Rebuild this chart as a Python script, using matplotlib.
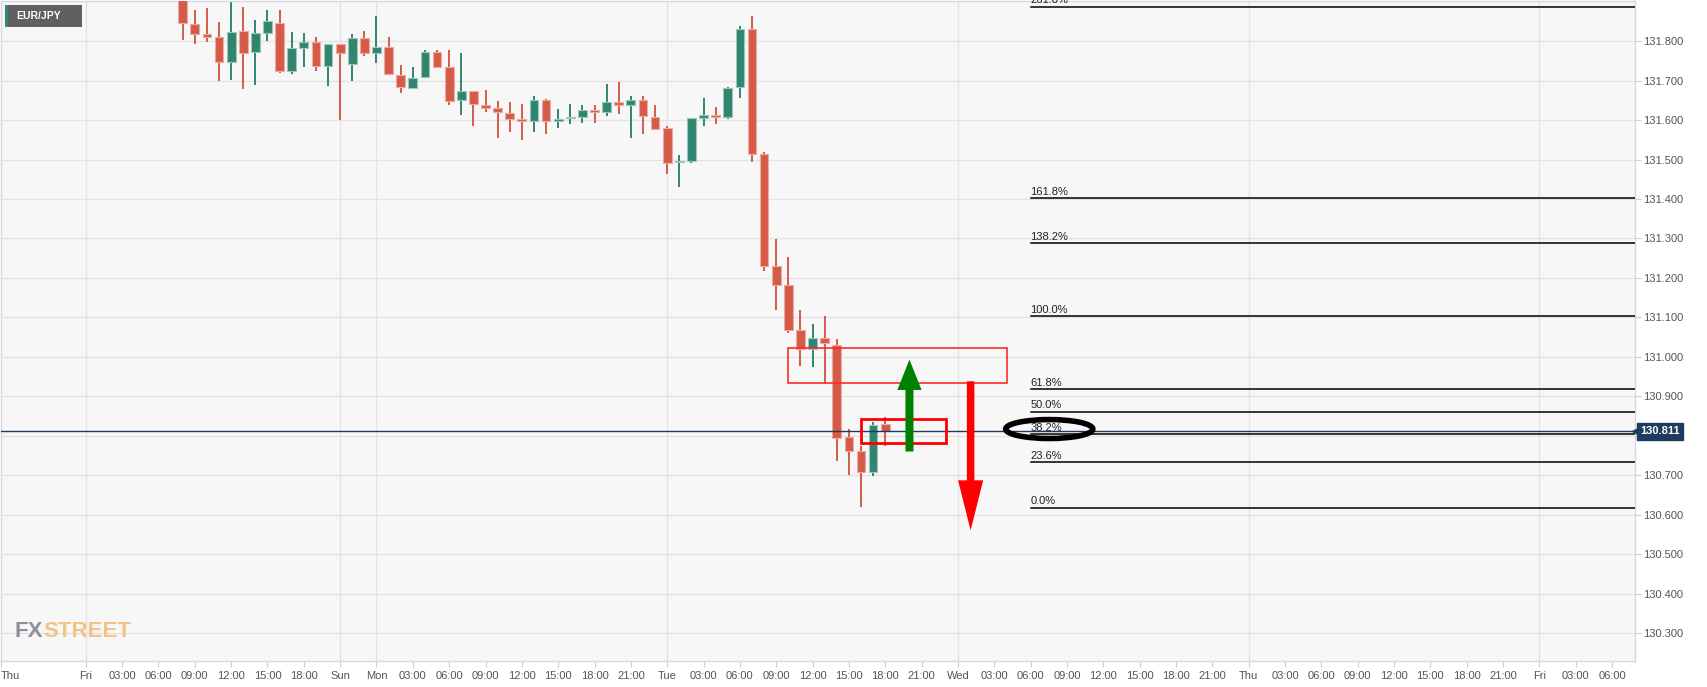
import matplotlib
matplotlib.use("Agg")
import matplotlib.pyplot as plt
from matplotlib.patches import Rectangle, Ellipse
import numpy as np

plt.rcParams['font.family'] = ['Liberation Sans', 'DejaVu Sans']

# ---------------- data ----------------
# hourly bar index (0 = Fri 00:00, weekend compressed)
bar_idx = list(range(8, 67))
opens = [131.930, 131.844, 131.818, 131.811, 131.747, 131.825, 131.772, 131.822, 131.847, 131.725,
         131.783, 131.797, 131.736, 131.793, 131.742, 131.809, 131.769, 131.786, 131.715, 131.681,
         131.710, 131.772, 131.734, 131.651, 131.674, 131.639, 131.632, 131.618, 131.602, 131.597,
         131.651, 131.598, 131.605, 131.609, 131.626, 131.621, 131.646, 131.638, 131.650, 131.608,
         131.579, 131.494, 131.497, 131.605, 131.612, 131.607, 131.683, 131.830, 131.514, 131.231,
         131.183, 131.068, 131.019, 131.049, 131.031, 130.796, 130.761, 130.707, 130.830]
highs = [131.950, 131.880, 131.885, 131.849, 131.910, 131.888, 131.853, 131.878, 131.878, 131.823,
         131.820, 131.811, 131.793, 131.793, 131.818, 131.825, 131.865, 131.811, 131.740, 131.735,
         131.777, 131.777, 131.777, 131.770, 131.674, 131.677, 131.649, 131.647, 131.641, 131.660,
         131.654, 131.629, 131.641, 131.639, 131.639, 131.692, 131.697, 131.660, 131.660, 131.639,
         131.586, 131.511, 131.605, 131.657, 131.634, 131.685, 131.838, 131.863, 131.519, 131.298,
         131.252, 131.118, 131.084, 131.103, 131.044, 130.816, 130.773, 130.836, 130.848]
lows = [131.802, 131.794, 131.797, 131.700, 131.702, 131.680, 131.690, 131.800, 131.719, 131.716,
        131.735, 131.725, 131.687, 131.600, 131.700, 131.763, 131.745, 131.715, 131.670, 131.681,
        131.710, 131.731, 131.639, 131.612, 131.584, 131.620, 131.555, 131.570, 131.549, 131.570,
        131.564, 131.580, 131.590, 131.593, 131.593, 131.611, 131.615, 131.554, 131.564, 131.574,
        131.463, 131.430, 131.492, 131.585, 131.589, 131.604, 131.656, 131.493, 131.217, 131.118,
        131.061, 130.977, 130.973, 130.930, 130.737, 130.700, 130.620, 130.697, 130.775]
closes = [131.846, 131.818, 131.812, 131.747, 131.823, 131.770, 131.822, 131.851, 131.725, 131.782,
          131.797, 131.736, 131.793, 131.771, 131.809, 131.769, 131.786, 131.717, 131.683, 131.708,
          131.773, 131.735, 131.649, 131.674, 131.642, 131.631, 131.620, 131.603, 131.598, 131.651,
          131.597, 131.604, 131.608, 131.626, 131.621, 131.646, 131.638, 131.651, 131.611, 131.578,
          131.492, 131.496, 131.605, 131.612, 131.607, 131.682, 131.832, 131.515, 131.231, 131.183,
          131.068, 131.019, 131.049, 131.034, 130.794, 130.761, 130.707, 130.827, 130.812]

last_price = 130.811

x_tick_pos = [-7, 0, 3, 6, 9, 12, 15, 18, 21, 24, 27, 30, 33, 36, 39, 42, 45, 48, 51, 54, 57, 60, 63, 66, 69,
              72, 75, 78, 81, 84, 87, 90, 93, 96, 99, 102, 105, 108, 111, 114, 117, 120, 123, 126]
x_tick_labels = ["Thu", "Fri", "03:00", "06:00", "09:00", "12:00", "15:00", "18:00", "Sun", "Mon",
                 "03:00", "06:00", "09:00", "12:00", "15:00", "18:00", "21:00", "Tue",
                 "03:00", "06:00", "09:00", "12:00", "15:00", "18:00", "21:00", "Wed",
                 "03:00", "06:00", "09:00", "12:00", "15:00", "18:00", "21:00", "Thu",
                 "03:00", "06:00", "09:00", "12:00", "15:00", "18:00", "21:00", "Fri",
                 "03:00", "06:00"]
day_grid_pos = [0, 21, 24, 48, 72, 96, 120]
y_ticks = [130.3, 130.4, 130.5, 130.6, 130.7, 130.8, 130.9, 131.0, 131.1, 131.2, 131.3, 131.4, 131.5, 131.6, 131.7, 131.8]
y_tick_hidden = [130.8]  # covered by the last-price tag in the reference

fib_low = 130.618
fib_high = 131.103
fib_ratios = [2.618, 1.618, 1.382, 1.0, 0.618, 0.5, 0.382, 0.236, 0.0]
fib_labels = ["261.8%", "161.8%", "138.2%", "100.0%", "61.8%", "50.0%", "38.2%", "23.6%", "0.0%"]
fib_start = 78.0

# annotation shapes
zone_big = (58.0, 76.05, 130.934, 131.023)
zone_small = (64.0, 71.04, 130.781, 130.843)
arrow_up = dict(x=68.0, y0=130.760, y1=130.993, head_len=0.077, width=0.66, head_w=2.0)
arrow_dn = dict(x=73.05, y0=130.938, y1=130.560, head_len=0.127, width=0.62, head_w=2.07)
ring = dict(x=79.54, y=130.817, w=7.2, h=0.048)

# ---------------- figure ----------------
W, H = 1707, 687
fig = plt.figure(figsize=(W / 100, H / 100), dpi=100)
fig.patch.set_facecolor('white')
ax = fig.add_axes([1 / W, 26 / H, 1634 / W, 660 / H])
ax.set_facecolor('#f7f7f7')
ax.set_xlim(-6.9, 127.9)
ax.set_ylim(130.229, 131.902)

# grid
for yv in y_ticks:
    ax.axhline(yv, color='#e3e3e3', lw=1.0, zorder=0)
for xv in day_grid_pos:
    ax.axvline(xv, color='#e3e3e3', lw=1.0, zorder=0)

# candles
up_face, up_edge = '#31856f', '#98c9bb'
dn_face, dn_edge = '#d55b49', '#eeaaa0'
o = np.array(opens); c = np.array(closes); hi = np.array(highs); lo = np.array(lows)
xs = np.array(bar_idx)
is_up = c >= o
wcol = [up_face if u else dn_face for u in is_up]
ax.vlines(xs, lo, hi, colors=wcol, lw=1.4, zorder=2)
body_h = np.maximum(np.abs(c - o), 0.003)
ax.bar(xs, body_h, bottom=np.minimum(o, c), width=0.72,
       color=[up_face if u else dn_face for u in is_up],
       edgecolor=[up_edge if u else dn_edge for u in is_up], linewidth=0.8, zorder=3)

# fibonacci levels
for r, lab in zip(fib_ratios, fib_labels):
    lvl = fib_low + r * (fib_high - fib_low)
    ax.plot([fib_start, 127.9], [lvl, lvl], color='black', lw=1.1, zorder=4)
    t = ax.annotate(lab, xy=(fib_start, lvl), xytext=(0, 1), textcoords='offset points',
                    ha='left', va='bottom', fontsize=8, color='#222222', zorder=4)
    t.set_clip_on(True)

# current price line
ax.axhline(last_price, color='#23395a', lw=1.0, zorder=4)

# zones
x0, x1, y0, y1 = zone_big
ax.add_patch(Rectangle((x0, y0), x1 - x0, y1 - y0, fill=False, ec='#ff2a2a', lw=1.2, zorder=5))
x0, x1, y0, y1 = zone_small
ax.add_patch(Rectangle((x0, y0), x1 - x0, y1 - y0, fill=False, ec='#ff0000', lw=2.0, zorder=5))

# arrows
for a, col in ((arrow_up, '#008000'), (arrow_dn, '#ff0000')):
    ax.arrow(a['x'], a['y0'], 0, a['y1'] - a['y0'], width=a['width'], head_width=a['head_w'],
             head_length=a['head_len'], length_includes_head=True, fc=col, ec=col, lw=0, zorder=6)

# ring around 38.2%
ax.add_patch(Ellipse((ring['x'], ring['y']), ring['w'], ring['h'], fill=False, ec='black', lw=4.0, zorder=6))

# axes styling
ax.yaxis.tick_right()
ax.set_yticks(y_ticks)
ax.set_yticklabels(["" if v in y_tick_hidden else f"{v:.3f}" for v in y_ticks])
ax.set_xticks(x_tick_pos)
ax.set_xticklabels(x_tick_labels)
ax.tick_params(axis='y', length=4, width=0.8, color='#c9cdd8', labelsize=8, labelcolor='#555555', pad=2)
ax.tick_params(axis='x', length=4, width=0.8, color='#c9cdd8', labelsize=8, labelcolor='#555555', pad=3)
xl = ax.get_xticklabels()
xl[0].set_ha('left')
for s in ax.spines.values():
    s.set_color('#d3d7e6')
    s.set_linewidth(1.0)

# last price tag
ax.plot([1.0], [last_price], marker='<', color='#1f3b5e', markersize=5,
        transform=ax.get_yaxis_transform(), clip_on=False, zorder=10)
ax.annotate(f"{last_price:.3f}", xy=(1, last_price), xycoords=('axes fraction', 'data'),
            xytext=(4, 0), textcoords='offset points', ha='left', va='center',
            fontsize=8, fontweight='bold', color='white', zorder=10, annotation_clip=False,
            bbox=dict(boxstyle='square,pad=0.3', fc='#1f3b5e', ec='#1f3b5e'))

# symbol tag (top-left)
fig.patches.append(Rectangle((5 / W, 1 - 27 / H), 77 / W, 22 / H, transform=fig.transFigure,
                             fc='#606060', ec='none', zorder=10))
fig.patches.append(Rectangle((5 / W, 1 - 27 / H), 2.5 / W, 22 / H, transform=fig.transFigure,
                             fc='#2e8b6e', ec='none', zorder=11))
fig.text(16.5 / W, 1 - 16 / H, "EUR/JPY", ha='left', va='center', color='white',
         fontsize=7.5, fontweight='bold', zorder=12)

# watermark
fx = fig.text(15 / W, 45 / H, "FX", ha='left', va='bottom', color='#8e9099',
              fontsize=16, fontweight='bold', fontstretch='condensed',
              family=['Liberation Sans Narrow', 'Liberation Sans', 'DejaVu Sans'], zorder=3)
fig.canvas.draw()
ax.annotate("STREET", xy=(1, 0), xycoords=fx, ha='left', va='bottom', color='#f1c385',
            fontsize=16, fontweight='bold', fontstretch='condensed',
            family=['Liberation Sans Narrow', 'Liberation Sans', 'DejaVu Sans'],
            annotation_clip=False, zorder=3)

fig.savefig("out.png", dpi=100, facecolor='white')
